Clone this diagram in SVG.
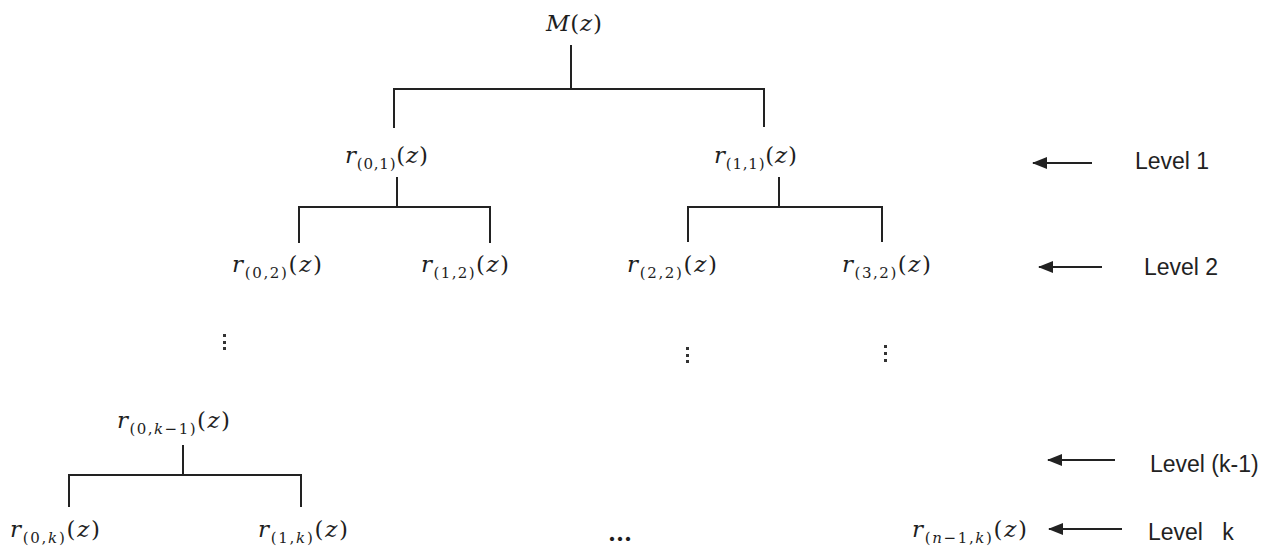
<svg xmlns="http://www.w3.org/2000/svg" width="1273" height="556" viewBox="0 0 1273 556">
  <style>
    .m { font-family: "DejaVu Serif", "Liberation Serif", serif; font-size: 23px; fill: #1e1e1e; }
    .i { font-style: italic; }
    .s { font-size: 15px; }
    .lv { font-family: "Liberation Sans", Arial, sans-serif; font-size: 23px; fill: #222; white-space: pre; }
    .ln { stroke: #222; stroke-width: 2; fill: none; stroke-linecap: square; }
    .ar { stroke: #222; stroke-width: 2; fill: none; marker-end: url(#ah); }
    .dot { fill: #333; }
  </style>
  <defs>
    <marker id="ah" markerUnits="userSpaceOnUse" markerWidth="16" markerHeight="12" refX="14" refY="6" orient="auto">
      <path d="M0,0 L15,6 L0,12 Z" fill="#222"/>
    </marker>
  </defs>
  <rect width="1273" height="556" fill="#fff"/>

  <g id="connectors">
    <path class="ln" d="M571,46 V89 M394,89 H764 M394,89 V127 M764,89 V126"/>
    <path class="ln" d="M397,178 V207 M299,207 H490 M299,207 V242 M490,207 V242"/>
    <path class="ln" d="M779,178 V207 M688,207 H882 M688,207 V241 M882,207 V241"/>
    <path class="ln" d="M183,446 V475 M69,475 H301 M69,475 V506 M301,475 V506"/>
  </g>

  <g id="nodes">
    <g id="n-M"><text class="m" x="546" y="31" textLength="56" lengthAdjust="spacing"><tspan class="i">M</tspan>(<tspan class="i">z</tspan>)</text></g>
    <g id="n-r01"><text class="m" x="345" y="163" textLength="83" lengthAdjust="spacing"><tspan class="i">r</tspan><tspan class="s" dy="6">(0,1)</tspan><tspan dy="-6">(</tspan><tspan class="i">z</tspan>)</text></g>
    <g id="n-r11"><text class="m" x="714" y="163" textLength="83" lengthAdjust="spacing"><tspan class="i">r</tspan><tspan class="s" dy="6">(1,1)</tspan><tspan dy="-6">(</tspan><tspan class="i">z</tspan>)</text></g>
    <g id="n-r02"><text class="m" x="232" y="272" textLength="90" lengthAdjust="spacing"><tspan class="i">r</tspan><tspan class="s" dy="6">(0,2)</tspan><tspan dy="-6">(</tspan><tspan class="i">z</tspan>)</text></g>
    <g id="n-r12"><text class="m" x="421" y="272" textLength="88" lengthAdjust="spacing"><tspan class="i">r</tspan><tspan class="s" dy="6">(1,2)</tspan><tspan dy="-6">(</tspan><tspan class="i">z</tspan>)</text></g>
    <g id="n-r22"><text class="m" x="627" y="272" textLength="90" lengthAdjust="spacing"><tspan class="i">r</tspan><tspan class="s" dy="6">(2,2)</tspan><tspan dy="-6">(</tspan><tspan class="i">z</tspan>)</text></g>
    <g id="n-r32"><text class="m" x="842" y="272" textLength="89" lengthAdjust="spacing"><tspan class="i">r</tspan><tspan class="s" dy="6">(3,2)</tspan><tspan dy="-6">(</tspan><tspan class="i">z</tspan>)</text></g>
    <g id="n-r0k1"><text class="m" x="117" y="428" textLength="113" lengthAdjust="spacing"><tspan class="i">r</tspan><tspan class="s" dy="6">(0,<tspan class="i">k</tspan>−1)</tspan><tspan dy="-6">(</tspan><tspan class="i">z</tspan>)</text></g>
    <g id="n-r0k"><text class="m" x="10" y="537" textLength="90" lengthAdjust="spacing"><tspan class="i">r</tspan><tspan class="s" dy="6">(0,<tspan class="i">k</tspan>)</tspan><tspan dy="-6">(</tspan><tspan class="i">z</tspan>)</text></g>
    <g id="n-r1k"><text class="m" x="258" y="537" textLength="90" lengthAdjust="spacing"><tspan class="i">r</tspan><tspan class="s" dy="6">(1,<tspan class="i">k</tspan>)</tspan><tspan dy="-6">(</tspan><tspan class="i">z</tspan>)</text></g>
    <g id="n-rn1k"><text class="m" x="912" y="537" textLength="115" lengthAdjust="spacing"><tspan class="i">r</tspan><tspan class="s" dy="6">(<tspan class="i">n</tspan>−1,<tspan class="i">k</tspan>)</tspan><tspan dy="-6">(</tspan><tspan class="i">z</tspan>)</text></g>
  </g>

  <g id="ellipses">
    <rect class="dot" x="223" y="334" width="3" height="3"/>
    <rect class="dot" x="223" y="341" width="3" height="3"/>
    <rect class="dot" x="223" y="347" width="3" height="3"/>
    <rect class="dot" x="686" y="347" width="3" height="3"/>
    <rect class="dot" x="686" y="354" width="3" height="3"/>
    <rect class="dot" x="686" y="360" width="3" height="3"/>
    <rect class="dot" x="884" y="345" width="3" height="3"/>
    <rect class="dot" x="884" y="352" width="3" height="3"/>
    <rect class="dot" x="884" y="359" width="3" height="3"/>
    <text class="m" x="620" y="541" text-anchor="middle" font-weight="bold">...</text>
  </g>

  <g id="levels">
    <path class="ar" d="M1092,163 H1033"/>
    <path class="ar" d="M1102,267 H1039"/>
    <path class="ar" d="M1115,460 H1048"/>
    <path class="ar" d="M1122,529 H1049"/>
    <text class="lv" x="1135" y="169">Level 1</text>
    <text class="lv" x="1144" y="275">Level 2</text>
    <text class="lv" x="1150" y="472">Level (k-1)</text>
    <text class="lv" x="1148" y="540">Level   k</text>
  </g>
</svg>
